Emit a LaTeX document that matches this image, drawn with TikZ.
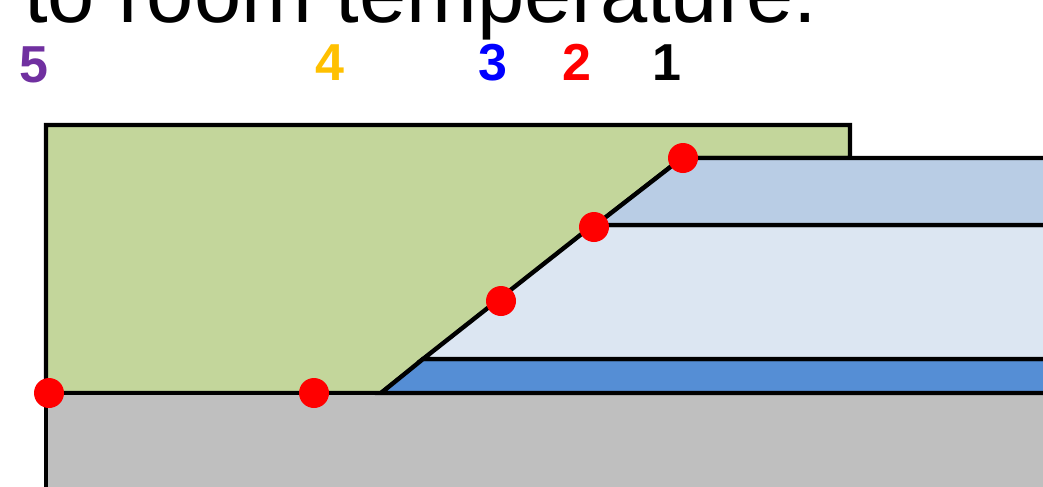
\documentclass[tikz,border=0pt]{standalone}
\usepackage{fontspec}
\setmainfont{Liberation Sans}
\definecolor{moss}{RGB}{195,214,155}
\definecolor{haze}{RGB}{185,205,229}
\definecolor{mist}{RGB}{220,230,242}
\definecolor{cobalt}{RGB}{85,142,213}
\definecolor{stone}{RGB}{191,191,191}
\definecolor{grape}{RGB}{112,48,160}
\definecolor{amber}{RGB}{255,192,0}
\tikzset{
  layer/.style={fill=#1,draw=black,line width=3.3pt,line join=miter},
  layer/.default=stone,
  dot/.style={circle,fill=red,inner sep=0pt,minimum size=22.5pt},
  digit/.style={text=#1,inner sep=0pt,anchor=base,font=\fontsize{39pt}{39pt}\selectfont\bfseries},
  digit/.default=black,
  title/.style={inner sep=0pt,anchor=base west,font=\fontsize{63.7pt}{64pt}\selectfont},
}
\begin{document}
\begin{tikzpicture}[x=0.75pt,y=-0.75pt]
    \useasboundingbox (0,0) rectangle (1043,486);
    \clip (0,0) rectangle (1043,486);
    \node[title] (heading) at (24,22) {to room temperature.};
    % layers
    \draw[layer=moss] (46,393) -- (46,125) -- (850,125) -- (850,158) -- (682,158) -- (381,393) -- cycle;
    \draw[layer=stone] (46,490) -- (46,393) -- (1050,393) -- (1050,490);
    \draw[layer=cobalt] (1050,359) -- (423,359) -- (381,393) -- (1050,393);
    \draw[layer=mist] (1050,225) -- (593,225) -- (423,359) -- (1050,359);
    \draw[layer=haze] (1050,158) -- (682,158) -- (593,227) -- (593,225) -- (1050,225);
    % marks
    \foreach \x/\y/\n in {683/158/a,594/227/b,501/301/c,314/393/d,49/393/e}
      \node[dot] (\n) at (\x,\y) {};
    \foreach \x/\y/\c/\t in {667/80/black/1,577/80/red/2,493/80/blue/3,330/80/amber/4,34/82/grape/5}
      \node[digit=\c] (n\t) at (\x,\y) {\t};
\end{tikzpicture}
\end{document}
